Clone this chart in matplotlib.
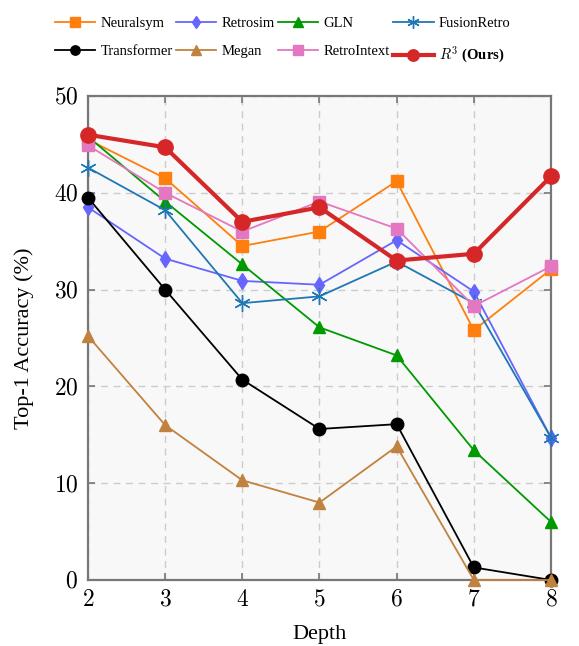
#!/usr/bin/env python3
"""Top-1 accuracy by route depth."""

import matplotlib

matplotlib.use("Agg")
import matplotlib.pyplot as plt
from matplotlib.ticker import FuncFormatter

depths = [2, 3, 4, 5, 6, 7, 8]

neuralsym = [45.5, 41.5, 34.5, 36.0, 41.2, 25.8, 32.1]
retrosim = [38.5, 33.2, 30.9, 30.5, 35.1, 29.8, 14.7]
gln = [45.8, 39.1, 32.6, 26.1, 23.2, 13.4, 6.0]
fusionretro = [42.6, 38.2, 28.6, 29.3, 32.9, 28.6, 14.7]
transformer = [39.5, 30.0, 20.7, 15.6, 16.1, 1.3, 0.0]
megan = [25.2, 16.0, 10.3, 8.0, 13.8, 0.0, 0.0]
retrointext = [44.9, 40.0, 36.0, 39.1, 36.3, 28.3, 32.4]
r3_ours = [46.0, 44.7, 37.0, 38.5, 33.0, 33.7, 41.7]

# (label, values, color, marker, markersize, linewidth, zorder)
SERIES = [
    ("Neuralsym", neuralsym, "#ff7f0e", "s", 9, 1.3, 3),
    ("Retrosim", retrosim, "#6666ff", "d", 8, 1.3, 3),
    ("GLN", gln, "#009900", "^", 9, 1.3, 3),
    ("FusionRetro", fusionretro, "#1f77b4", (6, 2, 0), 12, 1.3, 3),
    ("Transformer", transformer, "black", "o", 9, 1.3, 3),
    ("Megan", megan, "#c0823f", "^", 9, 1.3, 3),
    ("RetroIntext", retrointext, "#e377c2", "s", 9, 1.3, 4),
    (r"$R^3$ $\mathbf{(Ours)}$", r3_ours, "#d62728", "o", 11, 3.0, 5),
]

plt.rcParams["font.family"] = ["Liberation Serif", "DejaVu Serif"]
# LaTeX-like digits and R^3, Times bold for "(Ours)"
plt.rcParams["mathtext.fontset"] = "custom"
plt.rcParams["mathtext.rm"] = "cmr10"
plt.rcParams["mathtext.it"] = "cmmi10"
plt.rcParams["mathtext.bf"] = "Liberation Serif:bold"

fig = plt.figure(figsize=(5.79, 6.46), dpi=100)
ax = fig.add_axes([88 / 579, 1 - 580 / 646, 463 / 579, 484 / 646])
ax.set_facecolor("#f8f8f8")

lines = []
for label, values, color, marker, ms, lw, z in SERIES:
    (line,) = ax.plot(depths, values, color=color, marker=marker, markersize=ms,
                      linewidth=lw, label=label, zorder=z, clip_on=False)
    lines.append(line)

ax.set_xlim(2, 8)
ax.set_ylim(0, 50)
ax.set_xticks(depths)
ax.set_yticks([0, 10, 20, 30, 40, 50])
ax.xaxis.set_major_formatter(FuncFormatter(lambda v, _: f"${v:g}$"))
ax.yaxis.set_major_formatter(FuncFormatter(lambda v, _: f"${v:g}$"))
ax.tick_params(direction="in", length=5, width=1.2, color="#777777",
               labelsize=17, top=True, right=True, pad=7)
ax.grid(color="#cccccc", linestyle=(0, (5, 4)), linewidth=1.0)
for spine in ax.spines.values():
    spine.set_color("#777777")
    spine.set_linewidth(1.6)
ax.set_xlabel("Depth", fontsize=16, labelpad=10)
ax.set_ylabel("Top-1 Accuracy (%)", fontsize=16, labelpad=14)

# legend is filled row by row in the reference; matplotlib fills columns
order = [0, 4, 1, 5, 2, 6, 3, 7]
fig.legend([lines[i] for i in order], [SERIES[i][0] for i in order],
           loc="upper left", bbox_to_anchor=(42 / 579, 1 - 4 / 646), ncol=4,
           frameon=False, fontsize=10.5, handlelength=2.75, columnspacing=0.25,
           handletextpad=0.35, labelspacing=1.0, markerscale=0.75)

fig.savefig("out.png", dpi=100)
